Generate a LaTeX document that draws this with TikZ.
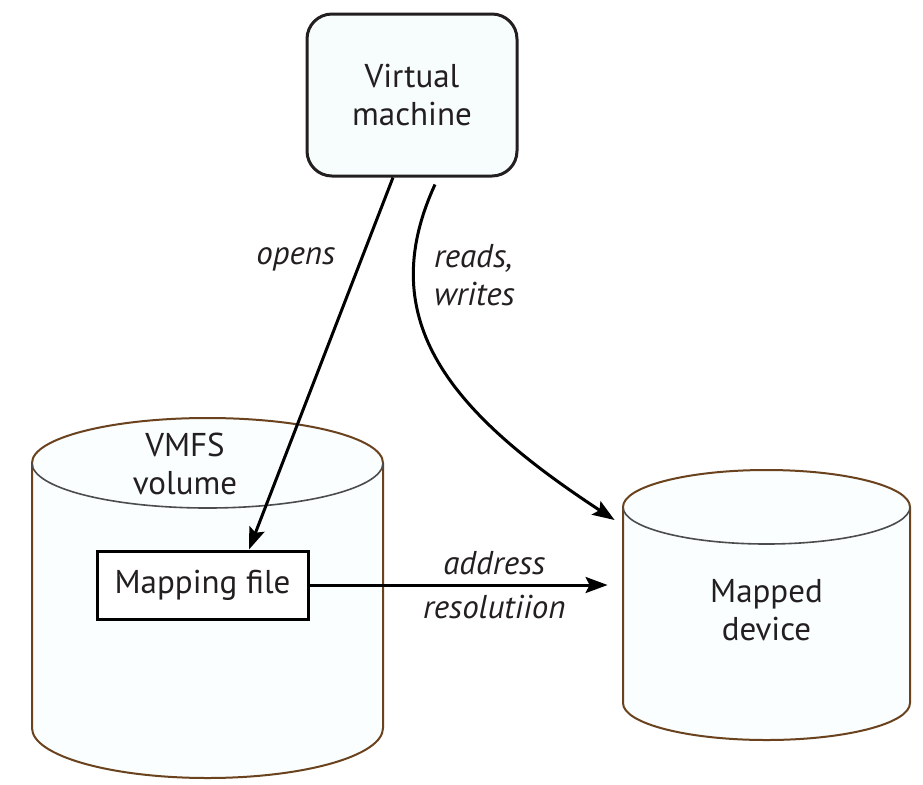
\documentclass[tikz,border=0pt]{standalone}
\usepackage{fontspec}
\setmainfont{PT Sans}
\usetikzlibrary{arrows.meta,positioning}
\definecolor{cylbrown}{RGB}{107,66,30}
\definecolor{cylfill}{RGB}{250,254,254}
\definecolor{vmfill}{RGB}{247,252,252}
\definecolor{inktext}{RGB}{35,31,32}

\begin{document}
\begin{tikzpicture}[x=0.5pt, y=-0.5pt,
        every node/.style={font=\fontsize{16.5}{19}\selectfont, text=inktext, align=center},
        VMbox/.style={rectangle, rounded corners=12.5pt, draw=inktext, fill=vmfill, line width=1.5pt, minimum width=105pt, minimum height=81pt},  % virtual machine
        MapBox/.style={rectangle, draw=black, fill=white, line width=1.5pt, minimum width=105.5pt, minimum height=34pt},  % mapping file
        cyl/.style={draw=cylbrown, fill=cylfill, line width=1pt},
        rim/.style={draw=black!70, line width=0.8pt},
        arr/.style={-{Stealth[length=11pt, width=8pt, inset=2pt]}, line width=1.5pt, black},
        lbl/.style={font=\fontsize{16.5}{19}\selectfont\itshape},
    ]
        \useasboundingbox (0,0) rectangle (923,784);

        %Cylinders
        \draw[cyl] (32,463) -- (32,728) arc[start angle=180, end angle=360, x radius=87.75pt, y radius=25pt]
            -- (383,463) arc[start angle=0, end angle=180, x radius=87.75pt, y radius=22.5pt] -- cycle;
        \draw[rim] (32,463) arc[start angle=180, end angle=360, x radius=87.75pt, y radius=22.5pt];
        \draw[cyl] (623,507) -- (623,703) arc[start angle=180, end angle=360, x radius=71.75pt, y radius=18.5pt]
            -- (910,507) arc[start angle=0, end angle=180, x radius=71.75pt, y radius=18.5pt] -- cycle;
        \draw[rim] (623,507) arc[start angle=180, end angle=360, x radius=71.75pt, y radius=18.5pt];

        %Nodes
        \node[VMbox] (VM) at (412,95) {Virtual\\machine};
        \node (VMFS) at (185,464) {VMFS\\volume};
        \node[MapBox] (Map) at (202.5,585) {Mapping file};
        \node[inner sep=0pt, minimum width=143.5pt] (Dev) at (766.5,610) {Mapped\\device};

        %Lines
        \draw[arr] ([xshift=-9.5pt]VM.south) to node[lbl, pos=0.22, left=9pt] {opens} ([xshift=23.25pt]Map.north);
        \draw[arr] ([xshift=11.5pt, yshift=-3.5pt]VM.south) .. controls ([xshift=-20pt, yshift=-72pt]VM.south) and ([xshift=20pt, yshift=-118pt]VM.south) .. ([xshift=-4pt, yshift=45pt]Dev.west);
        \node[lbl, align=left, anchor=west] (RW) at ([xshift=7.5pt, yshift=-49pt]VM.south) {reads,\\writes};
        \draw[arr] (Map.east) to node[lbl, pos=0.62, above=1pt] {address} node[lbl, pos=0.62, below=1pt] {resolutiion} ([xshift=-7.5pt]Map.east -| Dev.west);
    \end{tikzpicture}
\end{document}
